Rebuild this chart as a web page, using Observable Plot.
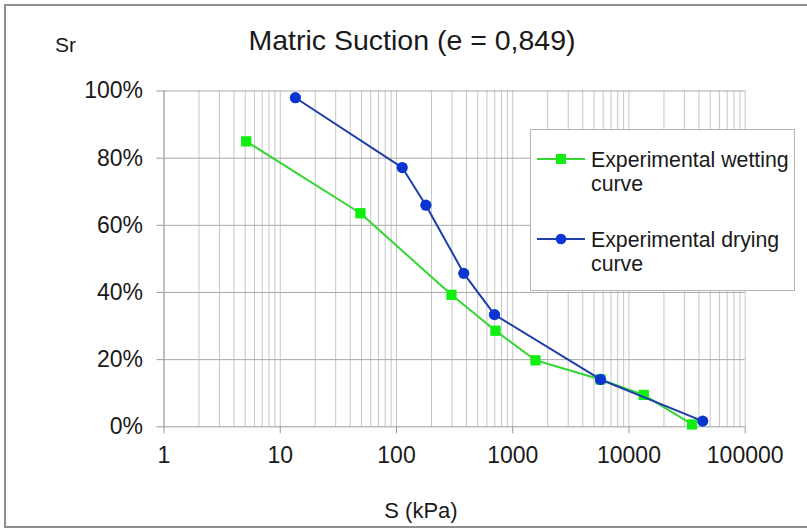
<!DOCTYPE html>
<html>
<head>
<meta charset="utf-8">
<script src="https://cdn.jsdelivr.net/npm/d3@7"></script>
<script src="https://cdn.jsdelivr.net/npm/@observablehq/plot@0.6"></script>
<style>
  html, body { margin: 0; padding: 0; background: #fff; overflow: hidden; }
  #wrap { position: relative; width: 807px; height: 532px; overflow: hidden; font-family: "Liberation Sans", Arial, sans-serif; color: #1a1a1a; }
  #frame { position: absolute; left: 4px; top: 4px; width: 840px; height: 524px; border: 2px solid #8e8e8e; box-sizing: border-box; }
  .t { position: absolute; white-space: nowrap; }
  #legend { position: absolute; left: 530px; top: 129px; width: 265px; height: 162px; border: 1px solid #b4b4b4; background: #fff; box-sizing: border-box; }
  #plot { position: absolute; left: 0; top: 0; }
</style>
</head>
<body>
<div id="wrap">
  <div id="frame"></div>
  <div id="plot"></div>
  <div class="t" style="left:412px; top:26px; font-size:28.5px; line-height:28.5px; transform:translateX(-50%);">Matric Suction (e = 0,849)</div>
  <div class="t" style="left:55px; top:34px; font-size:21px; line-height:21px;">Sr</div>
  <div class="t" style="left:421px; top:500px; font-size:22px; line-height:22px; transform:translateX(-50%);">S (kPa)</div>
  <div id="legend"></div>
</div>
<script>
// Data
const wettingS  = [5.1, 49, 297, 711, 1570, 5690, 13400, 34900];
const wettingSr = [0.85, 0.636, 0.393, 0.286, 0.198, 0.141, 0.095, 0.007];
const dryingS   = [13.5, 112, 179, 379, 697, 5690, 43100];
const dryingSr  = [0.98, 0.772, 0.66, 0.457, 0.334, 0.141, 0.017];
const seriesNames = ["Experimental wetting curve", "Experimental drying curve"];
const xTicks = [1, 10, 100, 1000, 10000, 100000];
const yTicks = [0, 0.2, 0.4, 0.6, 0.8, 1.0];

const wetting = wettingS.map((s, i) => ({s, sr: wettingSr[i]}));
const drying = dryingS.map((s, i) => ({s, sr: dryingSr[i]}));
const minorX = [];
for (const dec of [1, 10, 100, 1000, 10000]) for (let k = 1; k <= 9; k++) minorX.push(dec * k);
minorX.push(100000);

const greenLine = "#33d633", greenFill = "#11ee11";
const blueLine = "#1f3fa8", blueFill = "#0b35d0";

const chart = Plot.plot({
  width: 807,
  height: 532,
  marginLeft: 163.5,
  marginRight: 62.3,
  marginTop: 90.5,
  marginBottom: 105.7,
  style: {fontFamily: "Liberation Sans, Arial, sans-serif", background: "transparent", color: "#1a1a1a"},
  x: {type: "log", domain: [1, 100000]},
  y: {domain: [0, 1]},
  marks: [
    Plot.ruleX(minorX, {stroke: "#c6c6c6", strokeWidth: 1}),
    Plot.ruleY(yTicks.filter(d => d > 0), {stroke: "#a8a8a8", strokeWidth: 1}),
    Plot.ruleX([1], {stroke: "#9a9a9a", strokeWidth: 1}),
    Plot.ruleY([0], {stroke: "#9a9a9a", strokeWidth: 1}),
    Plot.axisX({ticks: xTicks, tickFormat: d => String(d), tickSize: 7, tickPadding: 13, fontSize: 23, label: null, stroke: "#9a9a9a"}),
    Plot.axisY({ticks: yTicks, tickFormat: d3.format(".0%"), tickSize: 7, tickPadding: 14, fontSize: 23, label: null, stroke: "#9a9a9a"}),
    Plot.line(wetting, {x: "s", y: "sr", stroke: greenLine, strokeWidth: 2}),
    Plot.dot(wetting, {x: "s", y: "sr", symbol: "square", r: 5.8, fill: greenFill, stroke: "none"}),
    Plot.line(drying, {x: "s", y: "sr", stroke: blueLine, strokeWidth: 2}),
    Plot.dot(drying, {x: "s", y: "sr", symbol: "circle", r: 5.6, fill: blueFill, stroke: "none"})
  ]
});
document.getElementById("plot").appendChild(chart);

// Legend
const legend = document.getElementById("legend");
const entries = [
  {name: seriesNames[0], line: greenLine, fill: greenFill, sym: "square", top: 17.7, lines: ["Experimental wetting", "curve"]},
  {name: seriesNames[1], line: blueLine, fill: blueFill, sym: "circle", top: 97.7, lines: ["Experimental drying", "curve"]}
];
for (const e of entries) {
  const ns = "http://www.w3.org/2000/svg";
  const svg = document.createElementNS(ns, "svg");
  svg.setAttribute("width", 50); svg.setAttribute("height", 14);
  svg.style.position = "absolute"; svg.style.left = "6px"; svg.style.top = (e.top + 4) + "px";
  const ln = document.createElementNS(ns, "line");
  ln.setAttribute("x1", 0); ln.setAttribute("x2", 48); ln.setAttribute("y1", 7); ln.setAttribute("y2", 7);
  ln.setAttribute("stroke", e.line); ln.setAttribute("stroke-width", 2);
  svg.appendChild(ln);
  let m;
  if (e.sym === "square") {
    m = document.createElementNS(ns, "rect");
    m.setAttribute("x", 19); m.setAttribute("y", 2); m.setAttribute("width", 10); m.setAttribute("height", 10);
  } else {
    m = document.createElementNS(ns, "circle");
    m.setAttribute("cx", 24); m.setAttribute("cy", 7); m.setAttribute("r", 5.3);
  }
  m.setAttribute("fill", e.fill);
  svg.appendChild(m);
  legend.appendChild(svg);
  const txt = document.createElement("div");
  txt.className = "t";
  txt.style.left = "60px"; txt.style.top = e.top + "px";
  txt.style.fontSize = "21.3px"; txt.style.lineHeight = "24px";
  txt.innerHTML = e.lines.join("<br>");
  legend.appendChild(txt);
}
</script>
</body>
</html>
